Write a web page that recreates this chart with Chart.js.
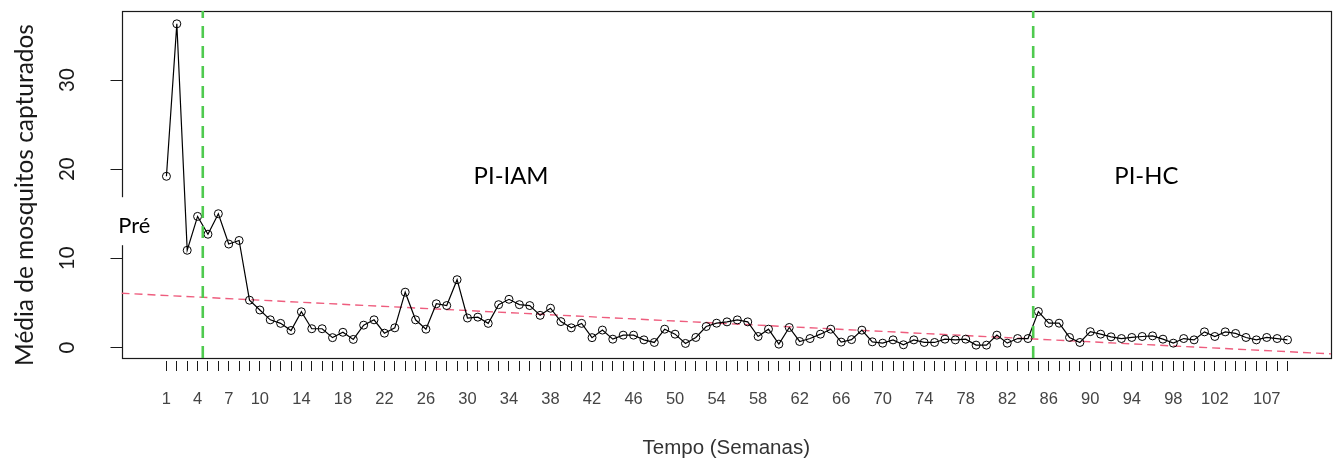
<!DOCTYPE html>
<html>
<head>
<meta charset="utf-8">
<script src="https://cdn.jsdelivr.net/npm/chart.js@4/dist/chart.umd.min.js"></script>
<style>
  html, body { margin: 0; padding: 0; background: #fff; }
  #wrap { width: 1336px; height: 459px; }
</style>
</head>
<body>
<div id="wrap"><canvas id="c" width="1336" height="459"></canvas></div>
<script>
// ---- data ----
const weeks = [1,2,3,4,5,6,7,8,9,10,11,12,13,14,15,16,17,18,19,20,
  21,22,23,24,25,26,27,28,29,30,31,32,33,34,35,36,37,38,39,40,
  41,42,43,44,45,46,47,48,49,50,51,52,53,54,55,56,57,58,59,60,
  61,62,63,64,65,66,67,68,69,70,71,72,73,74,75,76,77,78,79,80,
  81,82,83,84,85,86,87,88,89,90,91,92,93,94,95,96,97,98,99,100,
  101,102,103,104,105,106,107,108,109];
const mediaMosquitos = [19.2,36.3,10.9,14.7,12.7,15.0,11.6,12.0,5.3,4.2,
  3.1,2.7,1.9,4.0,2.1,2.1,1.1,1.7,0.9,2.5,
  3.1,1.6,2.2,6.2,3.1,2.05,4.9,4.7,7.6,3.3,
  3.4,2.7,4.8,5.4,4.8,4.7,3.6,4.4,2.9,2.2,
  2.7,1.1,1.95,0.93,1.38,1.38,0.85,0.56,2.05,1.49,
  0.45,1.12,2.35,2.72,2.87,3.09,2.87,1.23,2.05,0.37,
  2.24,0.67,1.0,1.49,2.05,0.6,0.88,1.94,0.63,0.48,
  0.85,0.3,0.85,0.56,0.56,0.93,0.85,0.93,0.26,0.26,
  1.38,0.48,1.0,1.0,4.03,2.72,2.72,1.12,0.56,1.77,
  1.49,1.19,1.0,1.12,1.23,1.3,0.93,0.48,1.0,0.85,
  1.75,1.23,1.75,1.57,1.12,0.85,1.12,1.0,0.85];
const xTickLabels = [1,4,7,10,14,18,22,26,30,34,38,42,46,50,54,58,62,66,70,74,78,82,86,90,94,98,102,107];
const yTickValues = [0,10,20,30];
const trendX = [-3.33, 113.19];
const trendY = [6.08, -0.72];
const phaseBreaks = [4.5, 84.5];
const phaseLabels = ['Pré','PI-IAM','PI-HC'];
const phaseLabelX = [-2.1, 34.2, 95.4];
const phaseLabelY = [13.6, 19.2, 19.2];
const yTitle = 'Média de mosquitos capturados';
const xTitle = 'Tempo (Semanas)';

// ---- axis ranges (R-style 4% extension) ----
const X_MIN = -3.33, X_MAX = 113.19;
const Y_BOX_MIN = -1.18, Y_MAX = 37.74, Y_MIN = -1.52;

function fitSize(ctx, text, family, target, weight) {
  ctx.save();
  ctx.font = (weight || '') + ' 100px ' + family;
  const w = ctx.measureText(text).width;
  ctx.restore();
  return 100 * target / w;
}

const overlay = {
  id: 'overlay',
  beforeDatasetsDraw(chart) {
    const {ctx, chartArea, scales} = chart;
    const yb = scales.y.getPixelForValue(Y_BOX_MIN);
    ctx.save();
    ctx.strokeStyle = '#1a1a1a';
    ctx.lineWidth = 1.2;
    ctx.strokeRect(Math.round(chartArea.left) + 0.5, Math.round(chartArea.top) + 0.5,
      Math.round(chartArea.right - chartArea.left) - 1, Math.round(yb - chartArea.top));
    ctx.restore();
  },
  afterDraw(chart) {
    const {ctx, scales} = chart;
    const fam = 'Lato, "Open Sans", sans-serif';
    ctx.save();
    // y tick labels (rotated, R style)
    ctx.fillStyle = '#1a1a1a';
    ctx.font = '20.5px ' + fam;
    ctx.textAlign = 'center';
    ctx.textBaseline = 'middle';
    yTickValues.forEach(v => {
      const y = scales.y.getPixelForValue(v);
      ctx.save();
      ctx.translate(67, y);
      ctx.rotate(-Math.PI / 2);
      ctx.fillText(String(v), 0, 0);
      ctx.restore();
    });
    // y title
    const ts = fitSize(ctx, yTitle, fam, 342);
    ctx.font = ts + 'px ' + fam;
    ctx.save();
    ctx.translate(25, 195);
    ctx.rotate(-Math.PI / 2);
    ctx.fillText(yTitle, 0, 0);
    ctx.restore();
    // phase labels
    const big = fitSize(ctx, phaseLabels[1], fam, 75);
    const small = fitSize(ctx, phaseLabels[0], fam, 32);
    phaseLabels.forEach((t, i) => {
      const x = scales.x.getPixelForValue(phaseLabelX[i]);
      const y = scales.y.getPixelForValue(phaseLabelY[i]);
      const s = i === 0 ? small : big;
      ctx.font = s + 'px ' + fam;
      if (i === 0) {
        ctx.fillStyle = '#fff';
        ctx.fillRect(x - 24, y - 29, 46, 48);
      }
      ctx.fillStyle = '#000';
      ctx.fillText(t, x, y);
    });
    ctx.restore();
  }
};

new Chart(document.getElementById('c'), {
  type: 'line',
  data: {
    datasets: [
      {
        label: 'media',
        data: weeks.map((w, i) => ({x: w, y: mediaMosquitos[i]})),
        borderColor: '#000',
        borderWidth: 1.2,
        pointRadius: 4,
        pointBorderWidth: 1,
        pointBorderColor: '#000',
        pointBackgroundColor: 'rgba(0,0,0,0)',
        tension: 0,
        order: 1
      },
      {
        label: 'trend',
        data: trendX.map((x, i) => ({x, y: trendY[i]})),
        borderColor: '#ee5d7e',
        borderWidth: 1.4,
        borderDash: [8, 5],
        pointRadius: 0,
        order: 2
      },
      ...phaseBreaks.map(b => ({
        label: 'break',
        data: [{x: b, y: Y_BOX_MIN}, {x: b, y: Y_MAX}],
        borderColor: '#4fca4f',
        borderWidth: 2.6,
        borderDash: [12, 8],
        pointRadius: 0,
        order: 0
      }))
    ]
  },
  options: {
    responsive: false,
    animation: false,
    devicePixelRatio: 1,
    layout: { padding: { top: 11, right: 4, left: 0, bottom: 0 } },
    plugins: { legend: { display: false }, tooltip: { enabled: false } },
    scales: {
      x: {
        type: 'linear',
        min: X_MIN, max: X_MAX,
        afterBuildTicks: s => { s.ticks = weeks.map(v => ({value: v})); },
        afterFit: s => { s.height = 98; },
        border: { display: false },
        grid: { drawOnChartArea: false, drawTicks: true, tickLength: 10, color: '#1a1a1a', tickColor: '#1a1a1a', lineWidth: 1 },
        ticks: {
          autoSkip: false, maxRotation: 0, minRotation: 0, padding: 19,
          color: '#444',
          font: { family: '"Liberation Sans", Arial, sans-serif', size: 16.5 },
          callback: v => xTickLabels.includes(v) ? String(v) : ''
        },
        title: {
          display: true, text: xTitle, color: '#333',
          font: { family: '"Liberation Sans", Arial, sans-serif', size: 20.5, lineHeight: 1.0 },
          padding: { top: 0, bottom: 0 }
        }
      },
      y: {
        type: 'linear',
        min: Y_MIN, max: Y_MAX,
        afterBuildTicks: s => { s.ticks = yTickValues.map(v => ({value: v})); },
        afterFit: s => { s.width = 121.5; },
        border: { display: false },
        grid: { drawOnChartArea: false, drawTicks: true, tickLength: 11, color: '#1a1a1a', tickColor: '#1a1a1a', lineWidth: 1 },
        ticks: { display: false }
      }
    }
  },
  plugins: [overlay]
});
</script>
</body>
</html>
